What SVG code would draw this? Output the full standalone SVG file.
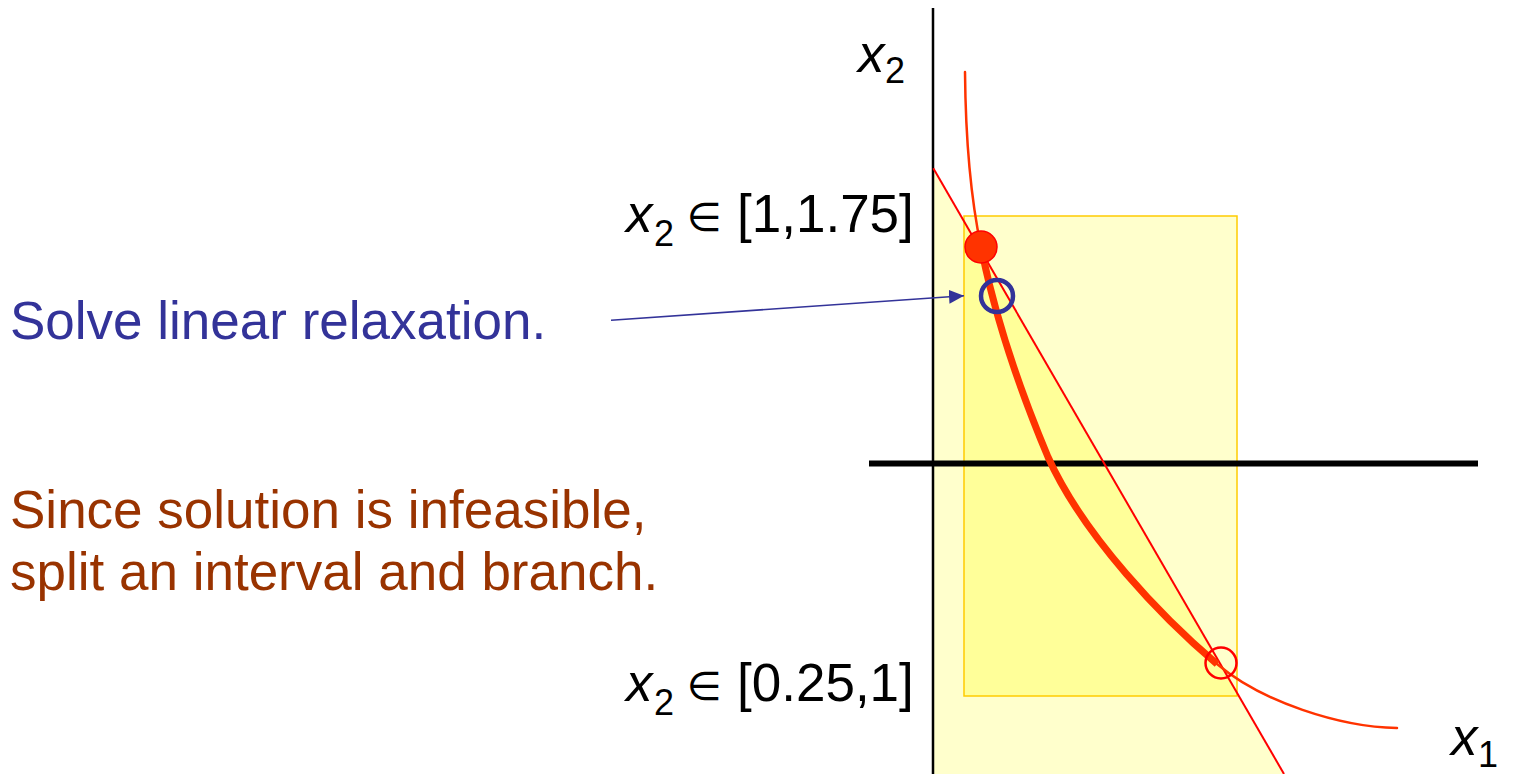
<svg xmlns="http://www.w3.org/2000/svg" width="1515" height="774" viewBox="0 0 1515 774">
<style>
text{font-family:"Liberation Sans",Arial,"DejaVu Sans",sans-serif;}
.big{font-size:53px;}
.math{font-size:53px;fill:#000;}
.it{font-style:italic;}
.sub{font-size:36px;}
.sym{font-family:"DejaVu Sans","Liberation Sans",sans-serif;font-size:40px;}
.blue{fill:#333399;}
.brown{fill:#993300;}
.curve{fill:none;stroke:#FF3300;stroke-width:2.5;stroke-linecap:round;}
</style>
<defs>
<marker id="ah" viewBox="0 0 15 14" refX="15" refY="7" markerWidth="15" markerHeight="14" markerUnits="userSpaceOnUse" orient="auto">
<path d="M0,0 L15,7 L0,14 Z" fill="#333399"/>
</marker>
</defs>
<rect width="1515" height="774" fill="#FFFFFF"/>
<g id="regions">
<polygon points="933,168 1284,774 933,774" fill="#FFFFCC"/>
<rect x="964" y="216" width="273" height="480" fill="#FFFFCC"/>
<polygon points="964,221.4 1237,693.7 1237,696 964,696" fill="#FFFF99"/>
<rect x="964" y="216" width="273" height="480" fill="none" stroke="#FFCC00" stroke-width="1.5"/>
</g>
<g id="axes">
<line x1="933" y1="8" x2="933" y2="774" stroke="#000" stroke-width="2.5"/>
<line x1="869" y1="463.5" x2="1478" y2="463.5" stroke="#000" stroke-width="6"/>
</g>
<g id="constraint-line">
<line x1="933.3" y1="168.3" x2="1284" y2="774" stroke="#FF0000" stroke-width="2"/>
</g>
<g id="curve">
<path class="curve" d="M965,72 C965.5,130 969.5,192 981,247 C995,317 1018.6,387 1048,457 C1084,537 1163.9,619 1217,664 C1262,702 1340,727 1397,728"/>
<path d="M981,247 C995,317 1018.6,387 1048,457 C1084,537 1163.9,619 1217,664" fill="none" stroke="#FF3300" stroke-width="7"/>
</g>
<g id="points">
<circle cx="981" cy="247" r="16" fill="#FF3300" stroke="#FF0000" stroke-width="1.5"/>
<circle cx="997" cy="296" r="16" fill="none" stroke="#333399" stroke-width="4.5"/>
<circle cx="1221" cy="663" r="15.5" fill="none" stroke="#FF0000" stroke-width="2.5"/>
</g>
<g id="connectors">
<line x1="611" y1="320.3" x2="964" y2="295.7" stroke="#333399" stroke-width="1.6" marker-end="url(#ah)"/>
</g>
<g id="label-solve">
<text class="big blue" x="10" y="339">Solve linear relaxation.</text>
</g>
<g id="label-since">
<text class="big brown" x="10" y="528">Since solution is infeasible,</text>
<text class="big brown" x="10" y="590">split an interval and branch.</text>
</g>
<g id="label-upper">
<text class="math it" x="626" y="232">x</text>
<text class="math sub" x="654" y="246">2</text>
<text class="math sym" x="687" y="231">∈</text>
<text class="math" x="737" y="232">[1,1.75]</text>
</g>
<g id="label-lower">
<text class="math it" x="626" y="701">x</text>
<text class="math sub" x="654" y="715">2</text>
<text class="math sym" x="687" y="700">∈</text>
<text class="math" x="737" y="701">[0.25,1]</text>
</g>
<g id="axis-x2">
<text class="math it" x="858" y="72">x</text>
<text class="math sub" x="885" y="83">2</text>
</g>
<g id="axis-x1">
<text class="math it" x="1451" y="755">x</text>
<text class="math sub" x="1478" y="767">1</text>
</g>
</svg>
